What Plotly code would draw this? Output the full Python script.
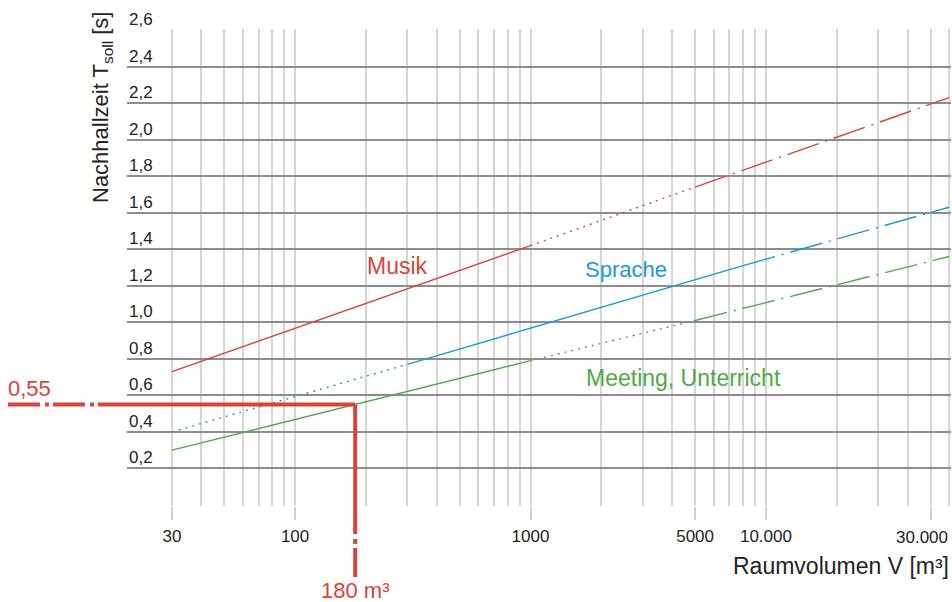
import math
import plotly.graph_objects as go

# Target reverberation time T_soll over room volume V, three room-use groups
volume_musik = [30, 1000, 5000, 60000]
t_musik = [0.73, 1.42, 1.74, 2.23]

volume_sprache = [30, 300, 8000, 60000]
t_sprache = [0.40, 0.77, 1.31, 1.63]

volume_meeting = [30, 1000, 5000, 60000]
t_meeting = [0.30, 0.79, 1.01, 1.36]

# Worked example
example_volume = 180
example_t = 0.55

x_tick_vals = [30, 100, 1000, 5000, 10000, 50000]
x_tick_text = ["30", "100", "1000", "5000", "10.000", "30.000"]
y_tick_vals = [0, 0.2, 0.4, 0.6, 0.8, 1.0, 1.2, 1.4, 1.6, 1.8, 2.0, 2.2, 2.4, 2.6]
y_tick_text = ["", "0,2", "0,4", "0,6", "0,8", "1,0", "1,2", "1,4", "1,6", "1,8",
               "2,0", "2,2", "2,4", "2,6"]

RED = "#d9443a"
BLUE = "#1b9ad6"
GREEN = "#4cab45"
TEXT = "#232323"
FONT = "Liberation Sans"

W, H = 952, 602
L, R, T, B = 127, 1, 29, 96
PW, PH = W - L - R, H - T - B
x_range = [1.286, 4.786]
y_range = [-0.0055, 2.6055]

DOT = "2px,5px"
DASHDOT = "33px,7px,2px,7px"


def px_x(p):
    return (p - L) / PW


def px_y(p):
    return (H - B - p) / PH


fig = go.Figure()


def add_curve(vols, ts, color, styles):
    for i, dash in enumerate(styles):
        fig.add_trace(go.Scatter(
            x=vols[i:i + 2], y=ts[i:i + 2], mode="lines",
            line=dict(color=color, width=1.4, dash=dash),
            hoverinfo="skip", showlegend=False,
        ))


add_curve(volume_musik, t_musik, RED, ["solid", DOT, DASHDOT])
add_curve(volume_sprache, t_sprache, BLUE, [DOT, "solid", DASHDOT])
add_curve(volume_meeting, t_meeting, GREEN, ["solid", DOT, DASHDOT])

minor_vals = [m * 10 ** e for e in range(1, 5) for m in range(1, 10)
              if 30 <= m * 10 ** e <= 60000 and m * 10 ** e not in x_tick_vals]
minor_vals.append(60000)

# The last label sits at the right edge; it is drawn separately, right-aligned
axis_tick_text = x_tick_text[:-1] + [""]

fig.update_layout(
    width=W, height=H, autosize=False,
    margin=dict(l=L, r=R, t=T, b=B),
    paper_bgcolor="white", plot_bgcolor="white",
    font=dict(family=FONT, color=TEXT),
    xaxis=dict(
        type="log", range=x_range, showline=False, zeroline=False,
        tickmode="array", tickvals=x_tick_vals, ticktext=axis_tick_text,
        ticks="outside", ticklen=13, tickwidth=1.5, tickcolor="#cfcfcf",
        ticklabelstandoff=2,
        showgrid=True, gridcolor="#d6d6d6", gridwidth=1.5,
        tickfont=dict(size=17, color=TEXT),
        minor=dict(tickvals=minor_vals, showgrid=True, gridcolor="#d6d6d6",
                   gridwidth=1.5, ticks=""),
        layer="below traces",
    ),
    yaxis=dict(
        range=y_range, showline=False, zeroline=False,
        tickmode="array", tickvals=y_tick_vals, ticktext=y_tick_text,
        ticks="", showticklabels=False,
        showgrid=True, gridcolor="#8d8d8d", gridwidth=1.5,
        layer="below traces",
    ),
)

fig.add_annotation(text=x_tick_text[-1], xref="paper", yref="paper",
                   x=px_x(950), y=px_y(537), xanchor="right", yanchor="middle",
                   showarrow=False, font=dict(size=17, color=TEXT))

# Value labels sit just above their grid lines, inside the plot
for v, txt in zip(y_tick_vals, y_tick_text):
    if txt:
        fig.add_annotation(text=txt, xref="paper", yref="y", x=px_x(127), y=v,
                           xanchor="left", yanchor="bottom", yshift=-1,
                           showarrow=False, font=dict(size=17, color=TEXT))

# Example read-off: 180 m³ -> 0,55 s
fig.add_shape(type="line", xref="paper", yref="y", x0=px_x(8), x1=0,
              y0=example_t, y1=example_t,
              line=dict(color=RED, width=4, dash="32px,5px,4px,4px"))
fig.add_shape(type="line", xref="x", yref="y", x0=10 ** x_range[0], x1=example_volume,
              y0=example_t, y1=example_t, line=dict(color=RED, width=4))
fig.add_shape(type="line", xref="x", yref="y", x0=example_volume, x1=example_volume,
              y0=example_t, y1=0, line=dict(color=RED, width=4))
fig.add_shape(type="line", xref="x", yref="paper", x0=example_volume, x1=example_volume,
              y0=px_y(505), y1=px_y(577),
              line=dict(color=RED, width=4, dash="29px,5px,5px,4px,29px,300px"))

label_t = f"{example_t:.2f}".replace(".", ",")
fig.add_annotation(text=label_t, xref="paper", yref="y", x=px_x(6), y=example_t,
                   xanchor="left", yanchor="bottom", yshift=2, showarrow=False,
                   font=dict(size=22, color=RED))
fig.add_annotation(text=f"{example_volume} m³", xref="x", yref="paper",
                   x=math.log10(example_volume), y=px_y(590),
                   xanchor="center", yanchor="middle", showarrow=False,
                   font=dict(size=22, color=RED))

# Curve names
fig.add_annotation(text="Musik", xref="paper", yref="paper", x=px_x(397), y=px_y(266),
                   xanchor="center", yanchor="middle",
                   showarrow=False, font=dict(size=23, color=RED))
fig.add_annotation(text="Sprache", xref="paper", yref="paper", x=px_x(626), y=px_y(269),
                   xanchor="center", yanchor="middle",
                   showarrow=False, font=dict(size=22, color=BLUE))
fig.add_annotation(text="Meeting, Unterricht", xref="paper", yref="paper",
                   x=px_x(683), y=px_y(378), xanchor="center", yanchor="middle",
                   showarrow=False, font=dict(size=23, color=GREEN))

# Axis titles
fig.add_annotation(text="Raumvolumen V [m³]", xref="paper", yref="paper",
                   x=px_x(951), y=px_y(566), xanchor="right", yanchor="middle",
                   showarrow=False, font=dict(size=23, color=TEXT))
fig.add_annotation(text="Nachhallzeit T<sub>soll</sub> [s]", xref="paper", yref="paper",
                   x=px_x(102), y=px_y(108), textangle=-90,
                   xanchor="center", yanchor="middle",
                   showarrow=False, font=dict(size=22, color=TEXT))

fig.write_html("out.html")
